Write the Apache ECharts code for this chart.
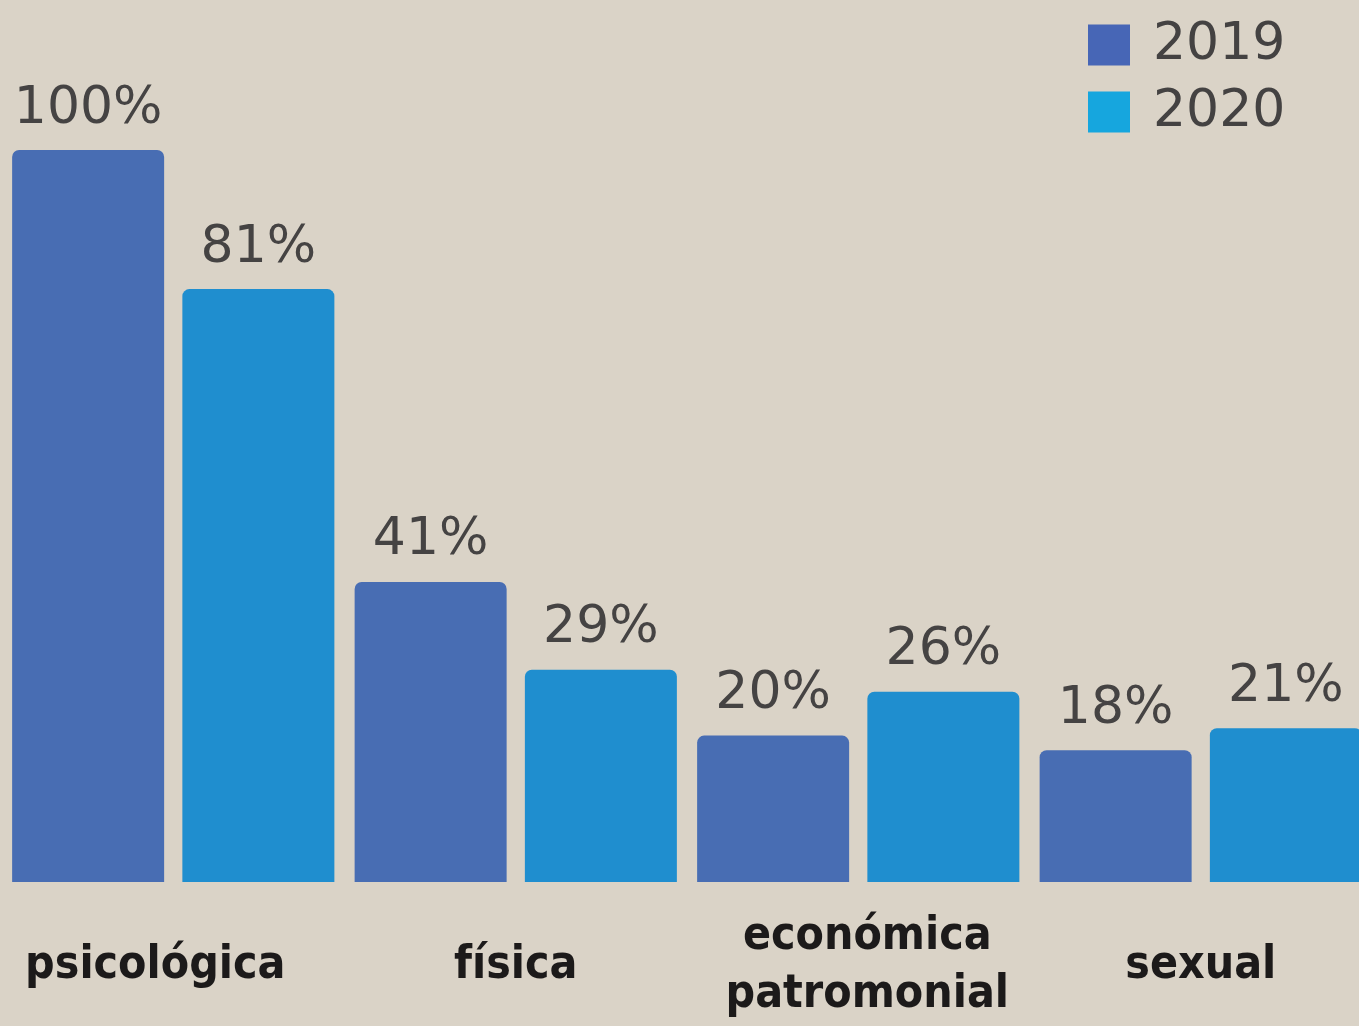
<!DOCTYPE html>
<html>
<head>
<meta charset="utf-8">
<script src="https://cdn.jsdelivr.net/npm/echarts@6/dist/echarts.min.js"></script>
<style>
html,body{margin:0;padding:0;background:#dad3c7;}
#chart{width:1359px;height:1026px;}
</style>
</head>
<body>
<div id="chart"></div>
<script>
const categories = ['psicológica', 'física', 'económica\npatromonial', 'sexual'];
const seriesNames = ['2019', '2020'];
const values2019 = [100, 41, 20, 18];
const values2020 = [81, 29, 26, 21];

const chart = echarts.init(document.getElementById('chart'));
const labelStyle = {
  show: true,
  position: 'top',
  distance: 15,
  formatter: '{c}%',
  fontFamily: '"DejaVu Sans", sans-serif',
  fontSize: 52,
  color: '#454343'
};
const catFont = {
  fontFamily: '"DejaVu Sans Condensed", sans-serif',
  fontWeight: 'bold',
  fontSize: 46,
  lineHeight: 58,
  color: '#1c1a1a'
};
chart.setOption({
  backgroundColor: '#dad3c7',
  animation: false,
  grid: { left: 2, right: -13, top: 150, bottom: 144, outerBoundsMode: 'none', containLabel: false },
  legend: {
    orient: 'vertical',
    left: 1083,
    top: 14,
    itemWidth: 42,
    itemHeight: 41,
    itemGap: 15,
    icon: 'rect',
    textStyle: {
      fontFamily: '"DejaVu Sans", sans-serif',
      fontSize: 52,
      color: '#444242',
      padding: [0, 0, 0, 18],
      lineHeight: 52
    },
    data: [
      { name: seriesNames[0], itemStyle: { color: '#4766b6' } },
      { name: seriesNames[1], itemStyle: { color: '#16a6de' } }
    ]
  },
  xAxis: {
    type: 'category',
    data: categories,
    axisLine: { show: false },
    axisTick: { show: false },
    axisLabel: Object.assign({
      interval: 0,
      margin: 84,
      verticalAlign: 'middle',
      formatter: function (v, i) {
        const style = ['l', 'n', 'r', 'n'][i] || 'n';
        return v.split('\n').map(function (s) { return '{' + style + '|' + s + '}'; }).join('\n');
      },
      rich: {
        l: Object.assign({ padding: [0, 36, 0, 0] }, catFont),
        n: Object.assign({}, catFont),
        r: Object.assign({ padding: [0, 0, 0, 18] }, catFont)
      }
    }, catFont)
  },
  yAxis: {
    type: 'value',
    min: 0,
    max: 100,
    show: false,
    splitLine: { show: false }
  },
  series: [
    {
      name: seriesNames[0],
      type: 'bar',
      data: values2019,
      barWidth: 152,
      barGap: '12%',
      itemStyle: { color: '#486db3', borderRadius: [7, 7, 0, 0] },
      label: labelStyle
    },
    {
      name: seriesNames[1],
      type: 'bar',
      data: values2020,
      barWidth: 152,
      barGap: '12%',
      itemStyle: { color: '#1f8ecf', borderRadius: [7, 7, 0, 0] },
      label: labelStyle
    }
  ]
});
</script>
</body>
</html>
